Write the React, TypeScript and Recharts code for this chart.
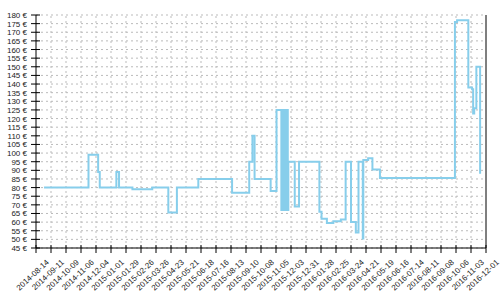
import React from 'react';
import { LineChart, Line, XAxis, YAxis, CartesianGrid, ReferenceLine } from 'recharts';

// price changes (step after)
const priceDates = [
  '2014-08-01', '2014-10-23', '2014-11-10', '2014-11-13', '2014-12-14', '2014-12-19',
  '2015-01-13', '2015-02-19', '2015-03-21', '2015-04-06', '2015-05-16', '2015-07-18',
  '2015-08-19', '2015-08-25', '2015-08-29', '2015-09-28', '2015-10-09',
  '2015-10-18', '2015-10-19', '2015-10-20', '2015-10-21', '2015-10-22', '2015-10-23',
  '2015-10-24', '2015-10-25', '2015-10-26', '2015-10-27', '2015-10-28', '2015-10-29',
  '2015-10-30', '2015-10-31', '2015-11-12', '2015-11-20', '2015-12-28',
  '2016-01-01', '2016-01-11', '2016-01-23', '2016-02-06', '2016-02-15', '2016-02-25',
  '2016-03-05', '2016-03-10', '2016-03-18', '2016-03-19', '2016-03-28', '2016-04-05',
  '2016-04-19', '2016-09-06', '2016-09-10', '2016-10-01', '2016-10-08', '2016-10-10',
  '2016-10-12', '2016-10-16', '2016-10-23',
];
const priceValues = [
  80, 99, 89, 80, 89, 80,
  79, 80, 65.5, 80, 85, 77,
  95, 110, 85, 78, 125,
  67, 125, 67, 125, 67, 125,
  67, 125, 67, 125, 67, 125,
  67, 95, 69, 95, 66,
  62, 59.5, 60.5, 61.5, 95, 60,
  54, 95, 50.5, 96, 97, 90.5,
  85.5, 176, 177, 138, 137, 123,
  126, 150, 88,
];

const tickDates = [
  '2014-08-14', '2014-09-11', '2014-10-09', '2014-11-06', '2014-12-04', '2015-01-01',
  '2015-01-29', '2015-02-26', '2015-03-26', '2015-04-23', '2015-05-21', '2015-06-18',
  '2015-07-16', '2015-08-13', '2015-09-10', '2015-10-08', '2015-11-05', '2015-12-03',
  '2015-12-31', '2016-01-28', '2016-02-25', '2016-03-24', '2016-04-21', '2016-05-19',
  '2016-06-16', '2016-07-14', '2016-08-11', '2016-09-08', '2016-10-06', '2016-11-03',
  '2016-12-01',
];
const rangeStart = '2014-07-17';
const rangeEnd = '2016-11-03';

const priceTicks = [
  45, 50, 55, 60, 65, 70, 75, 80, 85, 90, 95, 100, 105, 110, 115, 120, 125, 130,
  135, 140, 145, 150, 155, 160, 165, 170, 175, 180,
];

const toTime = (d: string) => Date.parse(d);
const data = priceDates.map((d, i) => ({ t: toTime(d), price: priceValues[i] }));
const xTicks = [toTime(rangeStart), ...tickDates.map(toTime)];
const endTime = toTime(rangeEnd);

const FONT = '"Liberation Sans", Arial, sans-serif';
const GRID = '#bbbbbb';

const fmtDate = (t: number) => new Date(t).toISOString().slice(0, 10);

function XTick(props: any) {
  const { x, y, payload } = props;
  const label = payload.value === xTicks[0] ? '' : fmtDate(payload.value);
  const px = x - 1.5;
  const py = y + 15;
  return (
    <g>
      {payload.value <= endTime && <line x1={x} x2={x} y1={y - 3} y2={y + 5} stroke="#000" />}
      <text
        x={px}
        y={py}
        transform={`rotate(-43 ${px} ${py})`}
        textAnchor="end"
        fontSize={8}
        fontFamily={FONT}
        fill="#222"
      >
        {label}
      </text>
    </g>
  );
}

function YTick(props: any) {
  const { x, y, payload } = props;
  return (
    <g>
      <line x1={x - 5} x2={x + 4} y1={y} y2={y} stroke="#000" />
      <text x={x - 9} y={y + 3} textAnchor="end" fontSize={8} fontFamily={FONT} fill="#222">
        {`${payload.value} €`}
      </text>
    </g>
  );
}

export default function App() {
  return (
    <div style={{ position: 'absolute', left: 0, top: 0, width: 500, height: 300, background: '#fff' }}>
      <LineChart width={500} height={300} data={data} margin={{ top: 15, right: 14, bottom: 0, left: 0 }}>
        <CartesianGrid vertical={false} stroke={GRID} strokeDasharray="2 3" />
        {tickDates.map(toTime).filter((t) => t < endTime).map((t) => (
          <ReferenceLine key={t} x={t} stroke={GRID} strokeDasharray="2 3" />
        ))}
        <ReferenceLine x={endTime} stroke="#000" />
        <XAxis
          dataKey="t"
          type="number"
          scale="linear"
          domain={[toTime(rangeStart), endTime]}
          allowDataOverflow
          ticks={xTicks}
          interval={0}
          height={52}
          tickSize={0}
          tickMargin={0}
          tickLine={false}
          axisLine={{ stroke: '#000' }}
          tick={<XTick />}
        />
        <YAxis
          type="number"
          domain={[45, 180]}
          ticks={priceTicks}
          interval={0}
          width={36}
          tickSize={0}
          tickMargin={0}
          tickLine={false}
          axisLine={{ stroke: '#000' }}
          tick={<YTick />}
        />
        <Line
          type="stepAfter"
          dataKey="price"
          stroke="#87ceeb"
          strokeWidth={2}
          dot={false}
          isAnimationActive={false}
        />
      </LineChart>
    </div>
  );
}
